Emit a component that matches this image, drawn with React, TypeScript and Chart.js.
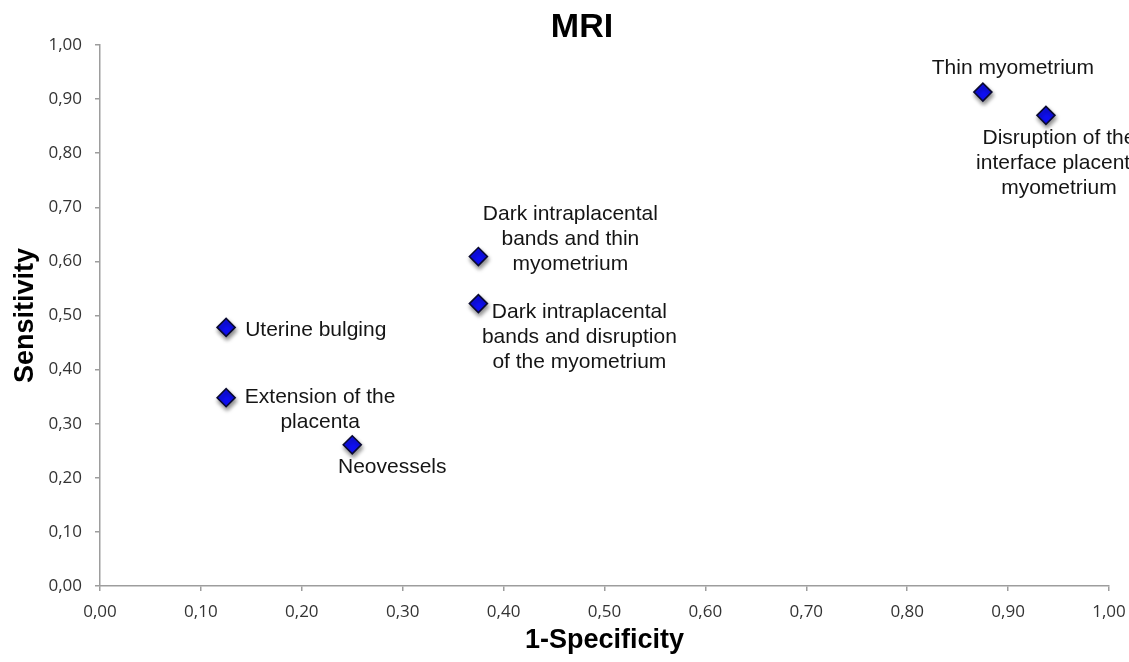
import React, { useEffect, useRef } from "react";
import { Chart, registerables } from "chart.js";

Chart.register(...registerables);

// ---- Data ----
const chartTitle = "MRI";
const xAxisTitle = "1-Specificity";
const yAxisTitle = "Sensitivity";

const pointNames = [
  "Uterine bulging",
  "Extension of the\nplacenta",
  "Neovessels",
  "Dark intraplacental\nbands and thin\nmyometrium",
  "Dark intraplacental\nbands and disruption\nof the myometrium",
  "Thin myometrium",
  "Disruption of the\ninterface placenta\nmyometrium",
];
const oneMinusSpecificity = [0.125, 0.125, 0.25, 0.375, 0.375, 0.875, 0.9375];
const sensitivity = [0.478, 0.348, 0.261, 0.609, 0.522, 0.913, 0.87];

const axisMin = 0;
const axisMax = 1;
const axisStep = 0.1;

// ---- Label layout (offsets from each point, in px) ----
const labelLayout = [
  { dx: 19, dy: 1, align: "left" },
  { dx: 94, dy: -2, align: "center" },
  { dx: 40, dy: 21, align: "center" },
  { dx: 92, dy: -44, align: "center" },
  { dx: 101, dy: 7, align: "center" },
  { dx: 30, dy: -26, align: "center" },
  { dx: 13, dy: 21, align: "center" },
];

const LABEL_FONT_SIZE = 21;
const LABEL_LINE_HEIGHT = 25;
const SANS = "'Liberation Sans', Arial, Helvetica, sans-serif";
const TICK_FONT = "'Open Sans', 'Liberation Sans', sans-serif";

const fmt = (v: number) => (Math.round(v * 100) / 100).toFixed(2).replace(".", ",");

const shadowPlugin = {
  id: "pointShadow",
  beforeDatasetsDraw(chart: any) {
    const ctx = chart.ctx;
    ctx.save();
    ctx.shadowColor = "rgba(0,0,0,0.45)";
    ctx.shadowBlur = 4;
    ctx.shadowOffsetX = 1;
    ctx.shadowOffsetY = 3;
  },
  afterDatasetsDraw(chart: any) {
    chart.ctx.restore();
  },
};

const labelPlugin = {
  id: "pointLabels",
  afterDatasetsDraw(chart: any) {
    const ctx = chart.ctx;
    const meta = chart.getDatasetMeta(0);
    ctx.save();
    ctx.font = `${LABEL_FONT_SIZE}px ${SANS}`;
    ctx.fillStyle = "#151515";
    ctx.textBaseline = "alphabetic";
    meta.data.forEach((el: any, i: number) => {
      const lay = labelLayout[i];
      const lines = pointNames[i].split("\n");
      ctx.textAlign = lay.align;
      lines.forEach((line, j) => {
        const cy = el.y + lay.dy + j * LABEL_LINE_HEIGHT;
        ctx.fillText(line, el.x + lay.dx, cy + LABEL_FONT_SIZE * 0.36);
      });
    });
    ctx.restore();
  },
};

const titlePlugin = {
  id: "customTitle",
  afterDraw(chart: any) {
    const ctx = chart.ctx;
    ctx.save();
    ctx.font = `bold 34px ${SANS}`;
    ctx.fillStyle = "#000";
    ctx.textAlign = "center";
    ctx.textBaseline = "alphabetic";
    ctx.fillText(chartTitle, 582, 37);
    ctx.restore();
  },
};

export default function App() {
  const canvasRef = useRef<HTMLCanvasElement | null>(null);

  useEffect(() => {
    if (!canvasRef.current) return;
    const points = oneMinusSpecificity.map((x, i) => ({ x, y: sensitivity[i] }));
    const axisColor = "#9d9d9d";
    const chart = new Chart(canvasRef.current, {
      type: "scatter",
      data: {
        datasets: [
          {
            label: chartTitle,
            data: points,
            pointStyle: "rectRot",
            pointRadius: 9,
            pointHoverRadius: 9,
            backgroundColor: "#0f0ff5",
            borderColor: "#0a0a30",
            borderWidth: 1.6,
          },
        ],
      },
      options: {
        responsive: false,
        animation: false,
        layout: { padding: { top: 45, right: 20, left: 0, bottom: 0 } },
        plugins: {
          legend: { display: false },
          title: { display: false },
          tooltip: { enabled: false },
        },
        scales: {
          x: {
            type: "linear",
            min: axisMin,
            max: axisMax,
            afterFit: (scale: any) => {
              scale.height = 76;
              scale.paddingLeft = 0;
              scale.paddingRight = 0;
            },
            ticks: {
              stepSize: axisStep,
              padding: 11,
              color: "#333",
              font: { family: TICK_FONT, size: 17 },
              callback: (v: any) => fmt(Number(v)),
            },
            grid: {
              drawOnChartArea: false,
              drawTicks: true,
              tickLength: 5,
              color: axisColor,
              lineWidth: 1.5,
            },
            border: { color: axisColor, width: 1.5 },
            title: {
              display: true,
              text: xAxisTitle,
              color: "#000",
              font: { family: SANS, size: 27, weight: "bold" },
              padding: { top: 0, bottom: 5 },
            },
          },
          y: {
            type: "linear",
            min: axisMin,
            max: axisMax,
            afterFit: (scale: any) => {
              scale.width = 100;
              scale.paddingTop = 0;
              scale.paddingBottom = 0;
            },
            ticks: {
              stepSize: axisStep,
              padding: 13,
              color: "#333",
              font: { family: TICK_FONT, size: 17 },
              callback: (v: any) => fmt(Number(v)),
            },
            grid: {
              drawOnChartArea: false,
              drawTicks: true,
              tickLength: 5,
              color: axisColor,
              lineWidth: 1.5,
            },
            border: { color: axisColor, width: 1.5 },
            title: {
              display: true,
              text: yAxisTitle,
              color: "#000",
              font: { family: SANS, size: 27, weight: "bold" },
              padding: { top: 9, bottom: 0 },
            },
          },
        },
      },
      plugins: [shadowPlugin, labelPlugin, titlePlugin],
    } as any);
    return () => chart.destroy();
  }, []);

  return (
    <div
      style={{
        position: "fixed",
        left: 0,
        top: 0,
        width: 1129,
        height: 662,
        background: "#fff",
      }}
    >
      <canvas
        ref={canvasRef}
        width={1129}
        height={662}
        style={{ display: "block", width: 1129, height: 662 }}
      />
    </div>
  );
}
